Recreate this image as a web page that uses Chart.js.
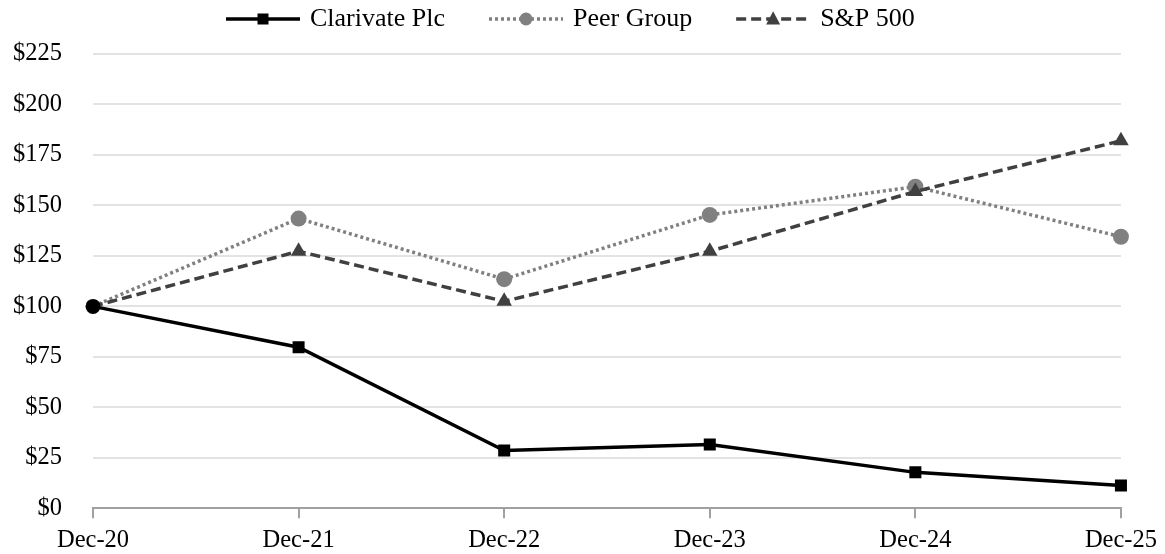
<!DOCTYPE html>
<html>
<head>
<meta charset="utf-8">
<script src="https://cdn.jsdelivr.net/npm/chart.js@4/dist/chart.umd.min.js"></script>
<style>
  html, body { margin: 0; padding: 0; background: #fff; }
  #wrap { width: 1165px; height: 554px; }
</style>
</head>
<body>
<div id="wrap"><canvas id="chart" width="1165" height="554"></canvas></div>
<script>
const categories = ['Dec-20', 'Dec-21', 'Dec-22', 'Dec-23', 'Dec-24', 'Dec-25'];
const clarivate = [100, 79.8, 28.6, 31.6, 17.8, 11.3];
const peerGroup = [100, 143.5, 113.5, 145.3, 159.3, 134.5];
const sp500 = [100, 127.3, 102.5, 127.3, 156.9, 182.0];
const seriesNames = ['Clarivate Plc', 'Peer Group', 'S&P 500'];
const yTicks = [0, 25, 50, 75, 100, 125, 150, 175, 200, 225];

const FONT = '"Liberation Serif", "Times New Roman", serif';
const AXIS_SIZE = 24.5;
const LEGEND_SIZE = 26;

// legend drawn as line + marker + text, like the source
const lineLegend = {
    id: 'lineLegend',
    afterDraw(chart) {
        const ctx = chart.ctx;
        ctx.save();
        ctx.font = LEGEND_SIZE + 'px ' + FONT;
        const lineW = 74, gapText = 10, gapItem = 44;
        let x = 226;
        const y = 19;
        chart.data.datasets.forEach(ds => {
            ctx.strokeStyle = ds.borderColor;
            ctx.lineWidth = ds.borderWidth;
            ctx.setLineDash(ds.borderDash || []);
            ctx.beginPath();
            ctx.moveTo(x, y);
            ctx.lineTo(x + lineW, y);
            ctx.stroke();
            ctx.setLineDash([]);
            const cx = x + lineW / 2, r = ds.legendRadius;
            ctx.fillStyle = ds.borderColor;
            ctx.beginPath();
            if (ds.legendStyle === 'circle') {
                ctx.arc(cx, y, r, 0, Math.PI * 2);
            } else if (ds.legendStyle === 'rect') {
                ctx.rect(cx - r, y - r, 2 * r, 2 * r);
            } else {
                ctx.moveTo(cx, y - r * 1.1);
                ctx.lineTo(cx + r, y + r * 0.8);
                ctx.lineTo(cx - r, y + r * 0.8);
                ctx.closePath();
            }
            ctx.fill();
            ctx.fillStyle = '#000';
            ctx.textBaseline = 'middle';
            ctx.textAlign = 'left';
            ctx.fillText(ds.label, x + lineW + gapText, y);
            x += lineW + gapText + ctx.measureText(ds.label).width + gapItem;
        });
        ctx.restore();
    }
};

new Chart(document.getElementById('chart'), {
    type: 'line',
    data: {
        labels: categories,
        datasets: [
            {
                label: seriesNames[0],
                data: clarivate,
                borderColor: '#000000',
                backgroundColor: '#000000',
                borderWidth: 3.5,
                pointStyle: ['circle', 'rect', 'rect', 'rect', 'rect', 'rect'],
                pointRadius: [7.5, 8.5, 8.5, 8.5, 8.5, 8.5],
                pointBorderWidth: 0,
                legendStyle: 'rect',
                legendRadius: 5.5,
                order: 1
            },
            {
                label: seriesNames[1],
                data: peerGroup,
                borderColor: '#808080',
                backgroundColor: '#808080',
                borderWidth: 3.5,
                borderDash: [3, 3],
                pointStyle: 'circle',
                pointRadius: [0, 8, 8, 8, 8, 8],
                pointBorderWidth: 0,
                legendStyle: 'circle',
                legendRadius: 6.5,
                order: 3
            },
            {
                label: seriesNames[2],
                data: sp500,
                borderColor: '#404040',
                backgroundColor: '#404040',
                borderWidth: 3.5,
                borderDash: [10, 5],
                pointStyle: 'triangle',
                pointRadius: [0, 9, 9, 9, 9, 9],
                pointBorderWidth: 0,
                legendStyle: 'triangle',
                legendRadius: 7,
                order: 2
            }
        ]
    },
    options: {
        responsive: false,
        animation: false,
        layout: { padding: { top: 54, right: 43, left: 0, bottom: 0 } },
        plugins: {
            legend: { display: false },
            tooltip: { enabled: false }
        },
        scales: {
            x: {
                offset: false,
                grid: {
                    display: true,
                    drawOnChartArea: false,
                    drawTicks: true,
                    tickLength: 10,
                    color: '#a0a0a0',
                    lineWidth: 2
                },
                border: { display: true, color: '#a0a0a0', width: 2 },
                ticks: {
                    color: '#000',
                    font: { family: FONT, size: AXIS_SIZE },
                    padding: 8,
                    maxRotation: 0
                },
                afterFit: s => { s.height = 42; }
            },
            y: {
                min: 0,
                max: 225,
                afterBuildTicks: s => { s.ticks = yTicks.map(v => ({ value: v })); },
                grid: {
                    color: c => c.tick.value === 0 ? 'rgba(0,0,0,0)' : '#e3e3e3',
                    lineWidth: 2,
                    drawTicks: false
                },
                border: { display: false },
                ticks: {
                    color: '#000',
                    font: { family: FONT, size: AXIS_SIZE },
                    padding: 31,
                    callback: v => '$' + v
                },
                afterFit: s => { s.width = 93; }
            }
        }
    },
    plugins: [lineLegend]
});
</script>
</body>
</html>
